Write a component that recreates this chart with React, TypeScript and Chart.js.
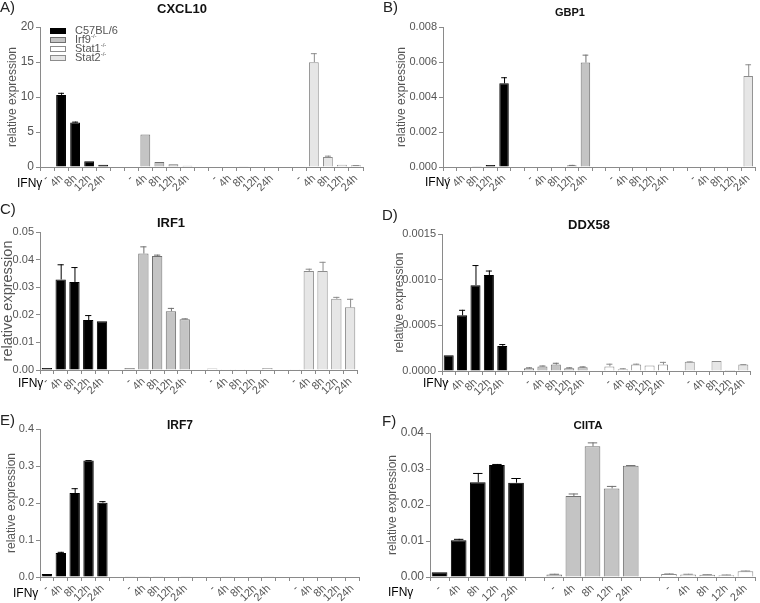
import React, { useEffect, useRef } from 'react';
import { Chart, registerables } from 'chart.js';
Chart.register(...registerables);

const FONT = "'Liberation Sans', Arial, sans-serif";

// ---------- categories ----------
const timeLabels = ['-', '4h', '8h', '12h', '24h'];
const strainNames = ['C57BL/6', 'Irf9', 'Stat1', 'Stat2'];
const strainSup = ['', '-/-', '-/-', '-/-'];

// ---------- styles (kept apart from data) ----------
const strainFill = ['#000000', '#c4c4c4', '#ffffff', '#e6e6e6'];
const strainEdge = ['#000000', '#707070', '#8c8c8c', '#8c8c8c'];

// ---------- data: rows = strains, cols = timeLabels ----------
const cxcl10Mean = [
  [0, 10.3, 6.36, 0.81, 0.33],
  [0, 4.64, 0.72, 0.38, 0.19],
  [0, 0, 0.05, 0, 0],
  [0, 14.98, 1.44, 0.33, 0.24],
];
const cxcl10Err = [
  [0, 0.3, 0.12, 0, 0],
  [0, 0, 0, 0, 0],
  [0, 0, 0, 0, 0],
  [0, 1.28, 0.18, 0, 0.04],
];

const gbp1Mean = [
  [0, 0, 0.00005, 0.00012, 0.00478],
  [0, 0, 0.00003, 0.0001, 0.00597],
  [0, 0, 0, 0, 0],
  [0, 0, 0.00001, 0.00003, 0.0052],
];
const gbp1Err = [
  [0, 0, 0, 0, 0.00035],
  [0, 0, 0, 0.00002, 0.00045],
  [0, 0, 0, 0, 0],
  [0, 0, 0, 0, 0.00067],
];

const irf1Mean = [
  [0.0007, 0.0328, 0.0319, 0.0181, 0.0177],
  [0.0007, 0.0422, 0.0413, 0.0213, 0.0184],
  [0.0005, 0.0003, 0.0003, 0, 0.0007],
  [0.0003, 0.0359, 0.0359, 0.0258, 0.0227],
];
const irf1Err = [
  [0, 0.0055, 0.0054, 0.0018, 0],
  [0, 0.0026, 0.0005, 0.0012, 0.0003],
  [0, 0, 0, 0, 0],
  [0, 0.0008, 0.0033, 0.0007, 0.0031],
];

const ddx58Mean = [
  [0.000172, 0.00061, 0.00094, 0.00105, 0.000275],
  [0.00003, 0.00005, 0.00007, 0.00003, 0.00004],
  [0.00005, 0.00002, 0.00007, 0.00006, 0.00007],
  [0.0001, 0, 0.00011, 0.00001, 0.00007],
];
const ddx58Err = [
  [0, 0.00006, 0.00022, 0.00005, 0.00002],
  [0.00001, 0.00001, 0.00002, 0.00001, 0.00001],
  [0.00003, 0.00001, 0.00001, 0, 0.00003],
  [0.000005, 0, 0, 0, 0.000005],
];

const irf7Mean = [
  [0.008, 0.065, 0.227, 0.315, 0.201],
  [0.001, 0.001, 0.001, 0.0015, 0.002],
  [0.0015, 0.001, 0, 0.002, 0.002],
  [0, 0, 0, 0, 0],
];
const irf7Err = [
  [0, 0.003, 0.013, 0.001, 0.004],
  [0, 0, 0, 0, 0],
  [0, 0, 0, 0, 0],
  [0, 0, 0, 0, 0],
];

const ciitaMean = [
  [0.0013, 0.0102, 0.0263, 0.0311, 0.0262],
  [0.0007, 0.0225, 0.0363, 0.0246, 0.0309],
  [0.0008, 0.0007, 0.0006, 0.0005, 0.0016],
];
const ciitaErr = [
  [0, 0.0004, 0.0026, 0.0003, 0.0013],
  [0.0002, 0.0007, 0.0011, 0.0007, 0.0002],
  [0.0002, 0.0002, 0.0002, 0.0002, 0.0002],
];

// ---------- panel layout (positions, sizes) ----------
type Panel = {
  letter: string; title: string; mean: number[][]; err: number[][];
  max: number; step: number; dec: number;
  left: number; top: number; w: number; h: number;
  area: { l: number; t: number; r: number; b: number };
  titleX: number; titleY: number; titleSize: number;
  letterX: number; letterY: number;
  ifnX: number; ifnY: number;
  yTitleX: number; yTitleSize: number; tickSize: number; barPct: number;
};

const panels: Panel[] = [
  { letter: 'A)', title: 'CXCL10', mean: cxcl10Mean, err: cxcl10Err, max: 20, step: 5, dec: 0,
    left: 0, top: 0, w: 380, h: 200, area: { l: 40, t: 27, r: 363, b: 167 },
    titleX: 182, titleY: 9, titleSize: 13, letterX: 0, letterY: 7, ifnX: 17, ifnY: 183,
    yTitleX: 13, yTitleSize: 12, tickSize: 12, barPct: 0.7 },
  { letter: 'B)', title: 'GBP1', mean: gbp1Mean, err: gbp1Err, max: 0.008, step: 0.002, dec: 3,
    left: 380, top: 0, w: 380, h: 200, area: { l: 63, t: 27, r: 375, b: 167 },
    titleX: 190, titleY: 12, titleSize: 11, letterX: 3, letterY: 7, ifnX: 45, ifnY: 182,
    yTitleX: 22, yTitleSize: 12, tickSize: 11, barPct: 0.7 },
  { letter: 'C)', title: 'IRF1', mean: irf1Mean, err: irf1Err, max: 0.05, step: 0.01, dec: 2,
    left: 0, top: 200, w: 380, h: 200, area: { l: 40, t: 32, r: 357, b: 170 },
    titleX: 171, titleY: 23, titleSize: 13, letterX: 0, letterY: 9, ifnX: 18, ifnY: 183,
    yTitleX: 8, yTitleSize: 14.5, tickSize: 11, barPct: 0.75 },
  { letter: 'D)', title: 'DDX58', mean: ddx58Mean, err: ddx58Err, max: 0.0015, step: 0.0005, dec: 4,
    left: 380, top: 200, w: 380, h: 200, area: { l: 62, t: 34, r: 370, b: 171 },
    titleX: 209, titleY: 25, titleSize: 13, letterX: 2, letterY: 15, ifnX: 43, ifnY: 183,
    yTitleX: 20, yTitleSize: 12, tickSize: 11, barPct: 0.75 },
  { letter: 'E)', title: 'IRF7', mean: irf7Mean, err: irf7Err, max: 0.4, step: 0.1, dec: 1,
    left: 0, top: 400, w: 380, h: 203, area: { l: 40, t: 29, r: 359, b: 177 },
    titleX: 180, titleY: 25, titleSize: 12, letterX: 0, letterY: 20, ifnX: 13, ifnY: 193,
    yTitleX: 12, yTitleSize: 12, tickSize: 11, barPct: 0.75 },
  { letter: 'F)', title: 'CIITA', mean: ciitaMean, err: ciitaErr, max: 0.04, step: 0.01, dec: 2,
    left: 380, top: 400, w: 380, h: 203, area: { l: 50, t: 33, r: 375, b: 177 },
    titleX: 208, titleY: 25, titleSize: 11.5, letterX: 2, letterY: 21, ifnX: 8, ifnY: 192,
    yTitleX: 13, yTitleSize: 12, tickSize: 12, barPct: 0.82 },
];

const errorBarPlugin = {
  id: 'errbars',
  afterDatasetsDraw(chart: any, _args: any, opts: any) {
    const errs: (number | null)[] = opts.errors;
    const cols: string[] = opts.colors;
    const meta = chart.getDatasetMeta(0);
    const ys = chart.scales.y;
    const ctx = chart.ctx;
    const data = chart.data.datasets[0].data;
    ctx.save();
    meta.data.forEach((bar: any, i: number) => {
      const e = errs[i];
      const v = data[i];
      if (!e || v == null) return;
      const yb = ys.getPixelForValue(v);
      const yt = ys.getPixelForValue(v + e);
      const half = bar.width * 0.3;
      ctx.strokeStyle = cols[i];
      ctx.lineWidth = 1;
      ctx.beginPath();
      ctx.moveTo(bar.x + 0.5, yb);
      ctx.lineTo(bar.x + 0.5, yt);
      ctx.moveTo(bar.x - half, yt + 0.5);
      ctx.lineTo(bar.x + half, yt + 0.5);
      ctx.stroke();
    });
    ctx.restore();
  },
};

function buildSeries(p: Panel) {
  const labels: string[] = [];
  const values: (number | null)[] = [];
  const errs: (number | null)[] = [];
  const fills: string[] = [];
  const edges: string[] = [];
  p.mean.forEach((row, g) => {
    row.forEach((v, k) => {
      labels.push(timeLabels[k]);
      values.push(v);
      errs.push(p.err[g][k]);
      fills.push(strainFill[g]);
      edges.push(strainEdge[g]);
    });
    if (g < p.mean.length - 1) {
      labels.push('');
      values.push(null);
      errs.push(null);
      fills.push('#fff');
      edges.push('#fff');
    }
  });
  return { labels, values, errs, fills, edges };
}

function PanelChart({ p }: { p: Panel }) {
  const ref = useRef<HTMLCanvasElement>(null);
  useEffect(() => {
    if (!ref.current) return;
    const s = buildSeries(p);
    const chart = new Chart(ref.current, {
      type: 'bar',
      data: {
        labels: s.labels,
        datasets: [{
          data: s.values as any,
          backgroundColor: s.fills,
          borderColor: s.edges,
          borderWidth: 1,
          barPercentage: p.barPct,
          categoryPercentage: 1,
        }],
      },
      options: {
        animation: false,
        responsive: false,
        devicePixelRatio: 1,
        layout: { padding: { left: 0, top: p.area.t, right: p.w - p.area.r, bottom: 0 } },
        plugins: {
          legend: { display: false },
          tooltip: { enabled: false },
          errbars: { errors: s.errs, colors: s.edges },
        } as any,
        scales: {
          x: {
            type: 'category',
            offset: true,
            grid: { offset: true, drawOnChartArea: false, drawTicks: true, tickLength: 4, color: '#8a8a8a' },
            border: { color: '#8a8a8a' },
            ticks: {
              autoSkip: false, maxRotation: 45, minRotation: 45, padding: 1,
              font: { family: FONT, size: 11 }, color: '#555',
            },
            afterFit: (sc: any) => { sc.height = p.h - p.area.b; },
          },
          y: {
            min: 0, max: p.max,
            grid: { drawOnChartArea: false, tickLength: 4, color: '#8a8a8a' },
            border: { color: '#8a8a8a' },
            ticks: {
              stepSize: p.step, padding: 2,
              font: { family: FONT, size: p.tickSize }, color: '#555',
              callback: (v: any) => Number(v).toFixed(p.dec),
            },
            title: {
              display: true, text: 'relative expression', color: '#555',
              font: { family: FONT, size: p.yTitleSize, lineHeight: 1 },
              padding: { top: Math.max(0, p.yTitleX - p.yTitleSize / 2), bottom: 0 },
            },
            afterFit: (sc: any) => { sc.width = p.area.l; },
          },
        },
      },
      plugins: [errorBarPlugin],
    } as any);
    return () => chart.destroy();
  }, [p]);

  return (
    <div style={{ position: 'absolute', left: p.left, top: p.top, width: p.w, height: p.h }}>
      <canvas ref={ref} width={p.w} height={p.h} style={{ width: p.w, height: p.h, display: 'block' }} />
      <div style={{ position: 'absolute', left: p.letterX, top: p.letterY - 8, fontFamily: FONT, fontSize: 15, lineHeight: '16px', color: '#222' }}>{p.letter}</div>
      <div style={{ position: 'absolute', left: p.titleX - 60, width: 120, textAlign: 'center', top: p.titleY - 7, fontFamily: FONT, fontSize: p.titleSize, fontWeight: 'bold', lineHeight: '14px', color: '#111' }}>{p.title}</div>
      <div style={{ position: 'absolute', left: p.ifnX, top: p.ifnY - 7, fontFamily: FONT, fontSize: 12, lineHeight: '14px', color: '#000' }}>IFNγ</div>
    </div>
  );
}

function Legend() {
  return (
    <div style={{ position: 'absolute', left: 50, top: 26, fontFamily: FONT, fontSize: 11, color: '#555' }}>
      {strainNames.map((n, i) => (
        <div key={n} style={{ position: 'absolute', left: 0, top: i * 8.9, height: 9, width: 120, whiteSpace: 'nowrap' }}>
          <div style={{ position: 'absolute', left: 0, top: 2, width: 14, height: 4, background: strainFill[i], border: `1px solid ${strainEdge[i]}` }} />
          <div style={{ position: 'absolute', left: 25, top: -2, lineHeight: '12px' }}>
            {n}{strainSup[i] ? <sup style={{ fontSize: 6, verticalAlign: 'top', lineHeight: '6px' }}>{strainSup[i]}</sup> : null}
          </div>
        </div>
      ))}
    </div>
  );
}

export default function App() {
  return (
    <div style={{ position: 'absolute', left: 0, top: 0, width: 760, height: 603, background: '#fff', overflow: 'hidden' }}>
      {panels.map((p) => <PanelChart key={p.letter} p={p} />)}
      <Legend />
    </div>
  );
}
